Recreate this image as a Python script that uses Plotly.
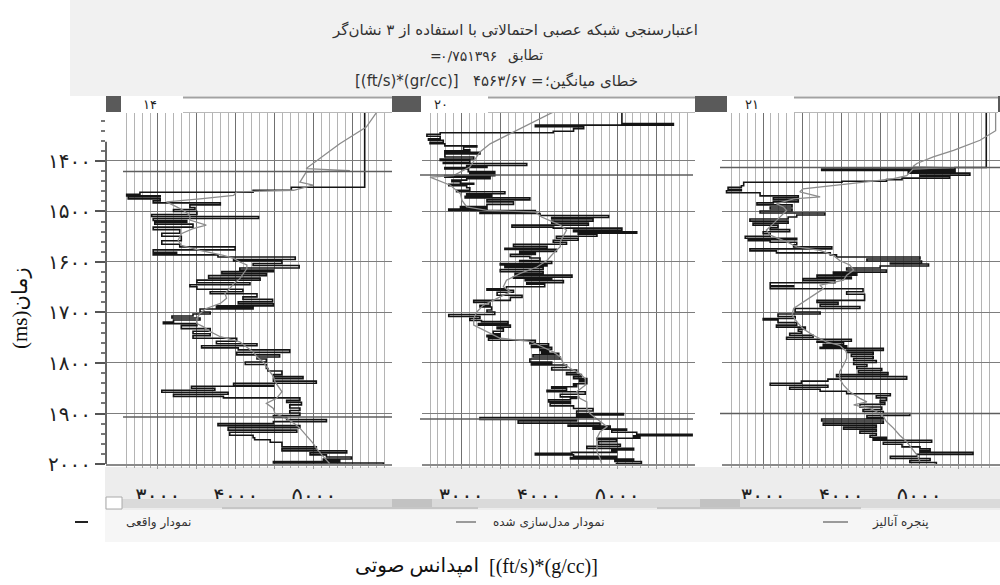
import plotly.graph_objects as go

# ---------------------------------------------------------------
# Blind-well validation of a probabilistic neural network (3 attributes)
# Time in ms, acoustic impedance in (ft/s)*(g/cc)
# ---------------------------------------------------------------
well_labels = ["14", "20", "21"]

# Well 14 - measured log (blocky)
w14_meas_t = [1300, 1452, 1458, 1462, 1466, 1469, 1471, 1475, 1479, 1483,
              1487, 1492, 1496, 1500, 1506, 1510, 1514, 1518, 1521, 1525,
              1531, 1536, 1543, 1549, 1558, 1565, 1570, 1576, 1581, 1583,
              1586, 1590, 1595, 1598, 1603, 1607, 1612, 1616, 1619, 1623,
              1627, 1632, 1636, 1641, 1645, 1649, 1654, 1659, 1663, 1669,
              1674, 1679, 1683, 1687, 1690, 1693, 1699, 1703, 1707, 1711,
              1715, 1719, 1722, 1726, 1732, 1737, 1742, 1746, 1751, 1757,
              1762, 1766, 1770, 1774, 1779, 1784, 1788, 1792, 1798, 1803,
              1811, 1816, 1823, 1827, 1831, 1836, 1840, 1844, 1846, 1850,
              1854, 1858, 1862, 1866, 1869, 1874, 1878, 1883, 1889, 1894,
              1899, 1904, 1908, 1912, 1916, 1920, 1924, 1928, 1933, 1937,
              1943, 1948, 1952, 1957, 1966, 1970, 1974, 1978, 1982, 1986,
              1990, 1993, 1995, 1998, 2000]
w14_meas_ai = [5650, 4710, 4220, 2770, 2600, 3030, 2620, 3030, 2940, 3800,
               3410, 3475, 3200, 3500, 2920, 4290, 2940, 3370, 2960, 3450,
               2940, 3280, 3050, 3300, 3050, 3280, 3990, 2940, 3240, 2940,
               3770, 4760, 3970, 4590, 4220, 4810, 4050, 4480, 3820, 4390,
               3650, 4310, 3500, 4180, 3410, 3500, 4090, 3670, 4270, 4090,
               4470, 4030, 4480, 3750, 4220, 3540, 3670, 3450, 3180, 3540,
               3200, 3070, 3500, 3300, 3670, 3450, 3670, 3450, 4010, 3750,
               4270, 3560, 4030, 4690, 4010, 4560, 4270, 4390, 4120, 4390,
               4410, 4590, 4480, 4860, 4480, 5030, 3970, 4480, 3430, 3730,
               3050, 3900, 3200, 3840, 4820, 4650, 4840, 4690, 4820, 4690,
               4820, 4480, 4650, 5160, 4480, 3770, 4820, 3900, 4780, 3920,
               4220, 4240, 4440, 4590, 5030, 4590, 5420, 4950, 5160, 5480,
               5120, 5330, 4480, 5890, 5890]

# Well 14 - modelled log
w14_model_t = [1300, 1333, 1366, 1386, 1405, 1415, 1419, 1422, 1432, 1442,
               1448, 1458, 1461, 1468, 1475, 1481, 1491, 1498, 1508, 1517,
               1527, 1534, 1544, 1557, 1567, 1577, 1587, 1593, 1600, 1606,
               1613, 1623, 1633, 1643, 1653, 1662, 1672, 1682, 1692, 1702,
               1712, 1722, 1728, 1738, 1748, 1758, 1768, 1778, 1788, 1798,
               1807, 1817, 1827, 1837, 1847, 1857, 1870, 1880, 1890, 1900,
               1910, 1919, 1929, 1939, 1949, 1959, 1969, 1979, 1989, 1999]
w14_model_ai = [5820, 5670, 5330, 5160, 4990, 4900, 5460, 4900, 4860, 4820,
                4990, 4740, 4010, 3970, 3540, 3110, 3240, 3330, 3410, 3410,
                3620, 3450, 3300, 3260, 3300, 3540, 3840, 3970, 4050, 4140,
                4140, 4090, 4050, 3970, 3920, 3860, 3880, 3800, 3620, 3540,
                3500, 3500, 3580, 3670, 3800, 4050, 4140, 4220, 4270, 4350,
                4390, 4440, 4480, 4500, 4540, 4590, 4520, 4390, 4480, 4500,
                4650, 4740, 4820, 4880, 4930, 4990, 5030, 5080, 5140, 5200]

# Well 20 - measured log
w20_meas_t = [1300, 1326, 1329, 1332, 1336, 1341, 1344, 1347, 1351, 1356,
              1359, 1363, 1366, 1370, 1372, 1378, 1380, 1383, 1386, 1392,
              1396, 1399, 1403, 1405, 1409, 1411, 1413, 1416, 1421, 1424,
              1427, 1429, 1432, 1435, 1438, 1441, 1444, 1446, 1449, 1453,
              1458, 1461, 1465, 1467, 1470, 1473, 1477, 1481, 1486, 1490,
              1492, 1495, 1498, 1502, 1504, 1508, 1512, 1515, 1519, 1523,
              1527, 1531, 1533, 1537, 1540, 1543, 1545, 1549, 1553, 1557,
              1561, 1565, 1569, 1573, 1575, 1579, 1582, 1585, 1589, 1592,
              1597, 1599, 1603, 1606, 1608, 1611, 1615, 1619, 1623, 1626,
              1630, 1632, 1635, 1637, 1641, 1644, 1649, 1653, 1656, 1660,
              1666, 1670, 1676, 1680, 1686, 1689, 1695, 1699, 1704, 1708,
              1712, 1716, 1718, 1722, 1725, 1729, 1732, 1737, 1742, 1745,
              1748, 1751, 1755, 1759, 1762, 1766, 1769, 1773, 1775, 1778,
              1781, 1784, 1788, 1792, 1798, 1801, 1804, 1809, 1814, 1819,
              1823, 1827, 1831, 1834, 1837, 1841, 1844, 1847, 1850, 1854,
              1857, 1862, 1867, 1870, 1873, 1877, 1880, 1885, 1890, 1895,
              1900, 1903, 1906, 1908, 1912, 1915, 1919, 1923, 1925, 1928,
              1931, 1933, 1937, 1941, 1944, 1946, 1949, 1952, 1956, 1961,
              1965, 1969, 1972, 1974, 1977, 1979, 1982, 1985, 1987, 1990,
              1993, 1995, 1999, 2000]
w20_meas_ai = [5060, 5720, 3950, 4570, 4440, 4180, 2730, 2560, 2730, 2580,
               2770, 2600, 2790, 3200, 3030, 3110, 2790, 3240, 2790, 3160,
               2730, 3110, 2770, 3840, 3070, 3330, 2790, 3090, 3430, 3110,
               3430, 2790, 3370, 3070, 2880, 2990, 3160, 2840, 3070, 3110,
               2940, 3560, 3070, 3390, 3050, 3880, 3330, 3670, 3330, 2990,
               3330, 2840, 3950, 3240, 4010, 4890, 4160, 4690, 4160, 4630,
               3650, 4180, 5060, 4440, 5250, 4500, 4740, 4220, 4500, 4180,
               4350, 3670, 4100, 3560, 4220, 3750, 3950, 3630, 3880, 4010,
               3750, 4160, 3500, 4100, 3560, 4050, 3500, 4050, 3690, 4420,
               3670, 4160, 3820, 4310, 3840, 4070, 3580, 3330, 3670, 3460,
               3780, 3630, 3160, 3370, 3240, 3390, 3330, 3430, 2840, 3240,
               3110, 3260, 3600, 3220, 3630, 3460, 3540, 3410, 3500, 3330,
               3500, 3350, 3950, 3880, 4120, 3900, 4160, 4010, 4120, 4030,
               4250, 3920, 4270, 3880, 4160, 3900, 4350, 4160, 4480, 4350,
               4540, 4440, 4610, 4520, 4610, 4440, 4480, 4160, 4350, 4100,
               4590, 4270, 4480, 4400, 4120, 4400, 4140, 4440, 4690, 4480,
               5080, 4480, 4690, 3240, 4480, 3730, 4780, 4370, 4910, 4690,
               5120, 4930, 5250, 5960, 5210, 5290, 4740, 4990, 4760, 5040,
               4610, 5210, 4930, 4990, 4420, 3950, 4440, 4990, 4400, 5210,
               4970, 5310, 4990, 4990]

# Well 20 - modelled log
w20_model_t = [1300, 1313, 1326, 1340, 1353, 1366, 1382, 1412, 1429, 1432,
               1448, 1465, 1478, 1491, 1498, 1501, 1511, 1521, 1527, 1537,
               1550, 1560, 1570, 1583, 1597, 1610, 1623, 1636, 1649, 1659,
               1672, 1686, 1699, 1712, 1725, 1738, 1751, 1757, 1768, 1778,
               1788, 1801, 1811, 1821, 1831, 1844, 1857, 1870, 1877, 1890,
               1900, 1916, 1926, 1936, 1949, 1962, 1975, 1989, 1999]
w20_model_ai = [4220, 4050, 3880, 3710, 3540, 3370, 3240, 3110, 2900, 2600,
                2860, 2990, 3010, 3070, 3330, 3950, 4030, 4180, 4270, 4350,
                4310, 4270, 4270, 4180, 4100, 3970, 3750, 3580, 3540, 3630,
                3460, 3280, 3200, 3160, 3160, 3330, 3500, 3880, 4050, 4180,
                4270, 4310, 4400, 4520, 4590, 4590, 4480, 4520, 4610, 4610,
                4650, 4780, 4870, 4780, 4740, 4740, 4740, 4780, 4800]

# Well 21 - measured log
w21_meas_t = [1300, 1413, 1416, 1419, 1421, 1424, 1428, 1430, 1434, 1437,
              1440, 1442, 1449, 1452, 1456, 1459, 1463, 1469, 1473, 1477,
              1481, 1483, 1487, 1491, 1495, 1499, 1503, 1507, 1511, 1515,
              1519, 1523, 1527, 1532, 1536, 1540, 1544, 1549, 1553, 1556,
              1558, 1561, 1566, 1570, 1574, 1578, 1582, 1586, 1590, 1594,
              1598, 1602, 1604, 1608, 1612, 1616, 1620, 1623, 1626, 1630,
              1633, 1637, 1641, 1647, 1649, 1653, 1659, 1664, 1676, 1680,
              1684, 1688, 1692, 1699, 1703, 1708, 1712, 1715, 1720, 1725,
              1729, 1733, 1737, 1741, 1745, 1749, 1753, 1757, 1759, 1763,
              1766, 1769, 1771, 1775, 1779, 1783, 1787, 1791, 1795, 1799,
              1803, 1807, 1811, 1815, 1819, 1823, 1827, 1832, 1836, 1840,
              1844, 1848, 1852, 1856, 1861, 1865, 1869, 1874, 1878, 1882,
              1887, 1892, 1896, 1900, 1904, 1908, 1911, 1915, 1919, 1923,
              1927, 1931, 1935, 1939, 1943, 1947, 1950, 1953, 1957, 1961,
              1966, 1970, 1974, 1977, 1981, 1985, 1989, 1993, 1997, 2000]
w21_meas_ai = [5860, 5460, 3750, 5460, 4860, 5650, 5010, 5390, 4780, 4580,
               4010, 2750, 2720, 2550, 2720, 2530, 2960, 3450, 3130, 3450,
               3130, 2920, 3370, 3090, 3370, 2960, 3790, 3430, 3320, 2830,
               3320, 2870, 3190, 3090, 3340, 3000, 3090, 2770, 3430, 2810,
               3090, 3430, 3390, 3880, 2830, 3170, 3860, 3940, 5010, 4330,
               5030, 4630, 5120, 4500, 4070, 4580, 3900, 4200, 3690, 4130,
               3510, 3920, 3090, 3390, 3090, 4280, 4070, 4300, 3690, 3960,
               3730, 4240, 3410, 3730, 3190, 3410, 3000, 3190, 3430, 3170,
               3540, 3450, 3490, 3340, 3640, 3300, 4130, 3690, 4030, 3770,
               4070, 3730, 4540, 4070, 4410, 4130, 4410, 4160, 4450, 4160,
               4330, 4200, 4520, 4220, 4600, 3940, 4840, 3830, 3490, 3090,
               3830, 3340, 3730, 4070, 4630, 4450, 4580, 4500, 4560, 4240,
               4520, 4280, 4540, 4880, 4330, 4540, 3750, 4540, 3770, 4450,
               4030, 4450, 4240, 4450, 4370, 4580, 4410, 5160, 4540, 4780,
               5010, 5140, 5010, 5690, 4970, 4630, 5140, 4880, 5220, 5220]

# Well 21 - modelled log
w21_model_t = [1300, 1340, 1359, 1379, 1392, 1405, 1411, 1413, 1416, 1429,
               1435, 1440, 1455, 1461, 1471, 1475, 1485, 1491, 1498, 1511,
               1524, 1537, 1547, 1560, 1570, 1577, 1587, 1597, 1606, 1616,
               1626, 1636, 1646, 1653, 1666, 1679, 1692, 1705, 1718, 1732,
               1745, 1758, 1765, 1778, 1791, 1804, 1817, 1831, 1844, 1857,
               1870, 1877, 1883, 1890, 1896, 1906, 1916, 1929, 1943, 1956,
               1969, 1982, 1995]
w21_model_ai = [5980, 5980, 5780, 5440, 5180, 4970, 4920, 5390, 4920, 4840,
                4670, 4410, 3510, 3470, 3730, 3390, 3170, 3260, 3300, 3220,
                3130, 3040, 3090, 3300, 3430, 3730, 3900, 3980, 4110, 4160,
                4070, 4030, 3730, 3770, 3640, 3510, 3390, 3370, 3430, 3510,
                3640, 3810, 3980, 4070, 4070, 4030, 3980, 3980, 4030, 4110,
                4240, 4330, 4160, 4370, 4450, 4540, 4580, 4670, 4750, 4840,
                4900, 4970, 5010]

# analysis window (top / base), ms
window_top_ms = [1421, 1428, 1413]
window_base_ms = [1907, 1911, 1900]

time_ticks = [1400, 1500, 1600, 1700, 1800, 1900, 2000]
ai_major_ticks = [3000, 3500, 4000, 4500, 5000, 5500]
ai_labelled = [3000, 4000, 5000]
ai_minor_ticks = [v for v in range(2600, 6000, 100) if v % 500 != 0]

# fit statistics shown in the heading
match_coef = "0/751396"
mean_error = "4563/67"

# title / caption texts; mixed-direction lines are set piecewise
title_main = "اعتبارسنجی شبکه عصبی احتمالاتی با استفاده از ۳ نشان‌گر"
match_label = "تطابق"
error_label = "خطای میانگین؛"
error_unit = "[(ft/s)*(gr/cc)]"
legend_names = ["نمودار واقعی", "نمودار مدل‌سازی شده", "پنجره آنالیز"]
x_title_fa = "امپدانس صوتی"
x_title_unit = "[(ft/s)*(g/cc)]"
y_title = "(ms)زمان"

FA = str.maketrans("0123456789", "۰۱۲۳۴۵۶۷۸۹")


def fa(v):
    return str(v).translate(FA)


# ---------------- page geometry helpers (pixels -> paper) ----------------
W, H = 1000, 585


def px(x):
    return x / W


def py(y):
    return 1 - y / H


SERIF = "Liberation Serif, DejaVu Sans, serif"
FA_FONT = "DejaVu Sans, Liberation Serif, sans-serif"

panel_px = [(106, 392), (422, 695), (722, 1000)]
panel_range = [(2335, 6000), (2497, 5997), (2472, 6036)]
y_dom = [py(464), py(113)]

wells = [
    (w14_meas_t, w14_meas_ai, w14_model_t, w14_model_ai),
    (w20_meas_t, w20_meas_ai, w20_model_t, w20_model_ai),
    (w21_meas_t, w21_meas_ai, w21_model_t, w21_model_ai),
]

fig = go.Figure()
layout = dict(
    width=W, height=H, margin=dict(l=0, r=0, t=0, b=0, pad=0, autoexpand=False),
    paper_bgcolor="white", plot_bgcolor="white", showlegend=False,
    hovermode=False,
)

for i, (mt, mv, gt, gv) in enumerate(wells):
    sx = "" if i == 0 else str(i + 1)
    xa, ya = "x" + sx, "y" + sx
    fig.add_trace(go.Scatter(
        x=mv, y=mt, mode="lines", xaxis=xa, yaxis=ya,
        line=dict(color="#141414", width=1.6, shape="vh"),
        name=legend_names[0]))
    fig.add_trace(go.Scatter(
        x=gv, y=gt, mode="lines", xaxis=xa, yaxis=ya,
        line=dict(color="#8c8c8c", width=1.3),
        name=legend_names[1]))

    layout["xaxis" + sx] = dict(
        domain=[px(panel_px[i][0]), px(panel_px[i][1])],
        range=list(panel_range[i]), anchor=ya, fixedrange=True,
        automargin=False,
        tickmode="array", tickvals=ai_major_ticks,
        ticktext=[fa(v) if v in ai_labelled else "" for v in ai_major_ticks],
        tickfont=dict(family=FA_FONT, size=21, color="#222"),
        ticks="outside", ticklen=3, tickcolor="#999", ticklabelstandoff=9,
        showgrid=True, gridcolor="#707070", gridwidth=1.4,
        minor=dict(tickmode="array", tickvals=ai_minor_ticks, showgrid=True,
                   gridcolor="#b4b4b4", gridwidth=1, ticks="outside",
                   ticklen=2, tickcolor="#aaa"),
        showline=True, linecolor="#8a8a8a", linewidth=1.5, zeroline=False,
    )
    yax = dict(
        domain=y_dom, range=[2000, 1305], anchor=xa, fixedrange=True,
        automargin=False,
        tickmode="array", tickvals=time_ticks,
        showgrid=True, gridcolor="#7d7d7d", gridwidth=1.2,
        zeroline=False, showline=False,
    )
    if i == 0:
        yax.update(
            ticktext=[fa(v) for v in time_ticks],
            tickfont=dict(family=FA_FONT, size=20, color="#222"),
            ticks="outside", ticklen=10, tickcolor="#555", tickwidth=1.5,
            minor=dict(dtick=20, tick0=1400, ticks="outside", ticklen=4,
                       tickcolor="#777", showgrid=False),
        )
    else:
        yax.update(showticklabels=False, ticks="")
    layout["yaxis" + sx] = yax

shapes = []


def rect(x0, y0, x1, y1, fill, line=None, layer="below"):
    shapes.append(dict(type="rect", xref="paper", yref="paper",
                       x0=px(x0), x1=px(x1), y0=py(y1), y1=py(y0),
                       fillcolor=fill, layer=layer,
                       line=dict(width=0) if line is None else line))


def hline(x0, x1, y, color, width, layer="above"):
    shapes.append(dict(type="line", xref="paper", yref="paper",
                       x0=px(x0), x1=px(x1), y0=py(y), y1=py(y),
                       line=dict(color=color, width=width), layer=layer))


# window background bands
rect(70, 0, 1000, 96, "#f1f1f1")
rect(105, 467, 1000, 510, "#ededed")
rect(105, 510, 1000, 542, "#f6f6f6")

# well header strips
headers = [(106, 121, 183, 392, 421), (392, 421, 488, 695, 727),
           (695, 727, 794, 998, 1000)]
label_x = [150, 441, 752]
for i, (s0, s1, l0, l1, s2) in enumerate(headers):
    rect(s1, 96, l1, 113, "white", layer="above")
    hline(l0, l1, 97.5, "#a2a2a2", 2)
    hline(l0, l1, 112.5, "#b8b8b8", 1)
    rect(s0, 96, s1, 112, "#5a5a5a", layer="above")
    rect(l1, 96, s2, 112, "#5a5a5a", layer="above")

# time axis line
shapes.append(dict(type="line", xref="paper", yref="y",
                   x0=px(106), x1=px(106), y0=1362, y1=2000,
                   line=dict(color="#666", width=2)))

# analysis window lines
win_px = [(123, 392), (420, 693), (720, 1000)]
for i in range(3):
    yr = "y" if i == 0 else "y" + str(i + 1)
    for t in (window_top_ms[i], window_base_ms[i]):
        shapes.append(dict(type="line", xref="paper", yref=yr,
                           x0=px(win_px[i][0]), x1=px(win_px[i][1]),
                           y0=t, y1=t, line=dict(color="#5e5e5e", width=1.5)))

# scroll bar and toolbar lines
rect(122, 499, 1000, 508, "#dadada", layer="above")
rect(392, 499, 432, 508, "#c2c2c2", layer="above")
rect(700, 499, 740, 508, "#c2c2c2", layer="above")
rect(106, 497, 122, 509, "white",
     line=dict(color="#aaaaaa", width=1), layer="above")
hline(222, 478, 508, "#c6c6c6", 2)
hline(657, 861, 508, "#c6c6c6", 2)

# legend swatches
hline(75, 88, 522, "#222222", 2)
hline(456, 476, 522, "#9a9a9a", 2)
hline(823, 848, 522, "#9a9a9a", 2)

layout["shapes"] = shapes

ann = []


def text(txt, x, y, size, anchor="center", family=FA_FONT, color="#333",
         angle=0):
    ann.append(dict(text=txt, x=px(x), y=py(y), xref="paper", yref="paper",
                    showarrow=False, xanchor=anchor, yanchor="middle",
                    textangle=angle,
                    font=dict(family=family, size=size, color=color)))


# heading: title, match coefficient, mean error
text(title_main, 515, 30, 15)
text("=", 444, 56, 14, anchor="right")
text(fa(match_coef), 499, 56, 14, anchor="right")
text(match_label, 506, 56, 14, anchor="left")
text(error_unit, 461, 81, 15, anchor="right")
text(fa(mean_error), 528, 81, 15, anchor="right")
text("=", 529, 81, 15, anchor="left")
text(error_label, 543, 81, 15, anchor="left")

# well numbers in the track headers
for i in range(3):
    text(fa(well_labels[i]), label_x[i], 104, 13, color="#222")

# legend
for txt, x in zip(legend_names, [124, 491, 870]):
    text(txt, x, 522, 12, anchor="left")

# axis titles
text(x_title_fa, 481, 566, 20, anchor="right", family=SERIF, color="#111")
text(x_title_unit, 487, 566, 20, anchor="left", family=SERIF, color="#111")
text(y_title, 20, 308, 21, family=SERIF, color="#111", angle=-90)
layout["annotations"] = ann

fig.update_layout(**layout)
fig.write_html("out.html", config={"displayModeBar": False})
